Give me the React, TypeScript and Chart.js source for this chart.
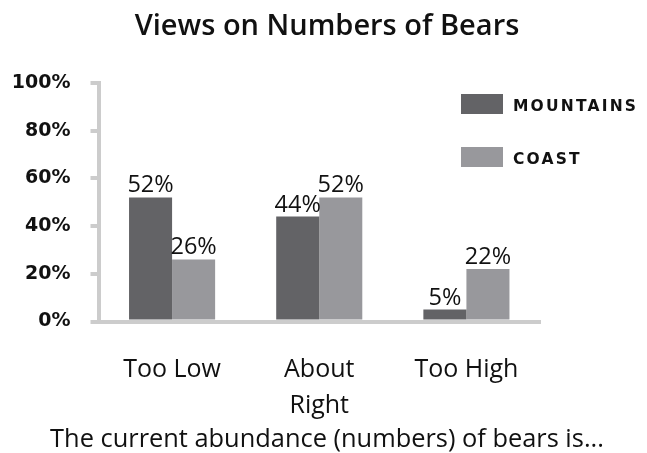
import React, { useEffect, useRef } from "react";
import { Chart, registerables } from "chart.js";

Chart.register(...registerables);

const chartTitle = "Views on Numbers of Bears";
const chartSubtitle = "The current abundance (numbers) of bears is...";
const categories: string[][] = [["Too Low"], ["About", "Right"], ["Too High"]];
const seriesNames = ["MOUNTAINS", "COAST"];
const mountainsValues = [52, 44, 5];
const coastValues = [26, 52, 22];
const yTickValues = [0, 20, 40, 60, 80, 100];

const seriesColors = ["#636366", "#98989c"];
const axisColor = "#cccccc";
const textColor = "#111111";

const overlayPlugin = {
  id: "overlayTexts",
  afterDatasetsDraw(chart: any) {
    const ctx = chart.ctx as CanvasRenderingContext2D;
    ctx.save();
    ctx.fillStyle = textColor;
    ctx.textAlign = "center";
    ctx.textBaseline = "alphabetic";
    ctx.font = '23.5px "Open Sans"';
    chart.data.datasets.forEach((ds: any, di: number) => {
      const meta = chart.getDatasetMeta(di);
      meta.data.forEach((bar: any, i: number) => {
        const v = ds.data[i];
        ctx.fillText(v + "%", bar.x, bar.y - 5);
      });
    });
    ctx.restore();
  },
  afterDraw(chart: any) {
    const ctx = chart.ctx as CanvasRenderingContext2D;
    ctx.save();
    ctx.fillStyle = textColor;
    ctx.textAlign = "center";
    ctx.textBaseline = "alphabetic";
    ctx.font = '600 29px "Open Sans"';
    ctx.fillText(chartTitle, 327, 35);
    ctx.font = '25.4px "Open Sans"';
    ctx.fillText(chartSubtitle, 327, 447);

    // legend
    chart.data.datasets.forEach((ds: any, di: number) => {
      const bx = 461;
      const by = 94 + di * 53;
      ctx.fillStyle = ds.backgroundColor;
      ctx.fillRect(bx, by, 42, 20);
      ctx.fillStyle = textColor;
      ctx.textAlign = "left";
      ctx.font = 'bold 15.5px "DejaVu Sans"';
      (ctx as any).letterSpacing = "2.2px";
      ctx.fillText(ds.label, 513, by + 17);
      (ctx as any).letterSpacing = "0px";
    });
    ctx.restore();
  },
};

export default function App() {
  const canvasRef = useRef<HTMLCanvasElement | null>(null);

  useEffect(() => {
    if (!canvasRef.current) return;
    const chart = new Chart(canvasRef.current, {
      type: "bar",
      data: {
        labels: categories,
        datasets: [
          {
            label: seriesNames[0],
            data: mountainsValues,
            backgroundColor: seriesColors[0],
            barPercentage: 1,
            categoryPercentage: 0.585,
          },
          {
            label: seriesNames[1],
            data: coastValues,
            backgroundColor: seriesColors[1],
            barPercentage: 1,
            categoryPercentage: 0.585,
          },
        ],
      },
      options: {
        responsive: false,
        animation: false,
        layout: { padding: { top: 83, right: 107, bottom: 0, left: 0 } },
        plugins: {
          legend: { display: false },
          title: { display: false },
          tooltip: { enabled: false },
        },
        scales: {
          x: {
            z: 1,
            grid: { display: false },
            border: { display: true, color: axisColor, width: 4 },
            ticks: {
              color: textColor,
              padding: 22,
              font: { family: '"Open Sans"', size: 25, lineHeight: 1.45 },
            },
            afterFit: (scale: any) => {
              scale.height = 131.5;
            },
          },
          y: {
            min: 0,
            max: 100,
            afterBuildTicks: (scale: any) => {
              scale.ticks = yTickValues.map((v) => ({ value: v }));
            },
            grid: {
              display: true,
              drawOnChartArea: false,
              drawTicks: true,
              tickLength: 8,
              color: axisColor,
              lineWidth: 4,
            },
            border: { display: true, color: axisColor, width: 4 },
            ticks: {
              color: textColor,
              padding: 20,
              font: { family: '"DejaVu Sans"', size: 19, weight: "bold" },
              callback: (v: any) => v + "%",
            },
            afterFit: (scale: any) => {
              scale.width = 98.5;
            },
          },
        },
      },
      plugins: [overlayPlugin],
    });
    return () => chart.destroy();
  }, []);

  return (
    <div style={{ position: "fixed", left: 0, top: 0, width: 647, height: 453, background: "#fff" }}>
      <canvas ref={canvasRef} width={647} height={453} />
    </div>
  );
}
